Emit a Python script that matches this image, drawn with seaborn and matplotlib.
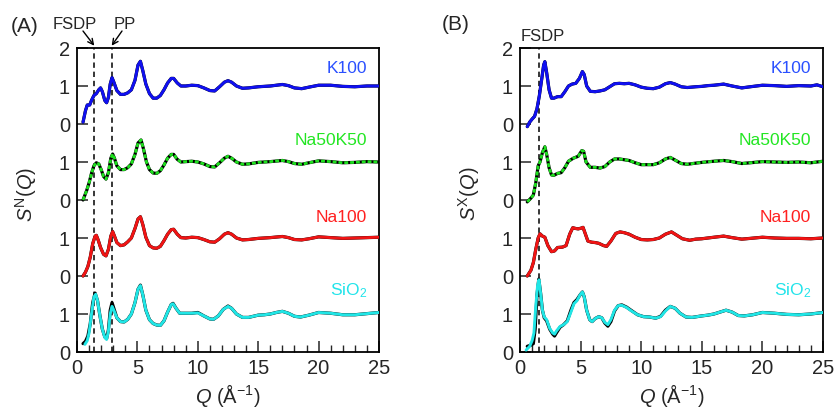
import numpy as np
import pandas as pd
import matplotlib
matplotlib.use("Agg")
import matplotlib.pyplot as plt
import seaborn as sns
from matplotlib.ticker import MultipleLocator, FixedLocator

sns.set_style("white")
plt.rcParams["font.family"] = ["Liberation Sans", "DejaVu Sans"]
plt.rcParams["mathtext.fontset"] = "custom"
plt.rcParams["mathtext.rm"] = "Liberation Sans"
plt.rcParams["mathtext.it"] = "Liberation Sans:italic"
plt.rcParams["mathtext.bf"] = "Liberation Sans:bold"

# ---------------- data ----------------
SAMPLES = ["SiO2", "Na100", "Na50K50", "K100"]
SAMPLE_LABELS = ["SiO$_2$", "Na100", "Na50K50", "K100"]
OFFSETS = [0, 2, 4, 6]
YTICKS = [0, 1, 2, 3, 4, 5, 6, 7, 8]
YTICK_LABELS = ["0", "1", "0", "1", "0", "1", "0", "1", "2"]
XTICKS = [0, 5, 10, 15, 20, 25]

# ---- Panel A : neutron S^N(Q) ----
Q_K100_N = [0.5, 0.7, 0.85, 1.05, 1.2, 1.4, 1.6, 1.8, 1.95, 2.1, 2.3, 2.45, 2.6, 2.75, 2.9, 3.05, 3.3, 3.6, 3.9, 4.2,
            4.5, 4.8, 5.05, 5.25, 5.45, 5.7, 6.0, 6.3, 6.6, 6.9, 7.2, 7.5, 7.8, 8.0, 8.3, 8.6, 9.0, 9.5, 10.0, 10.5,
            11.0, 11.4, 11.8, 12.2, 12.5, 12.8, 13.2, 13.7, 14.2, 15.0, 15.5, 16.0, 16.5, 17.0, 17.5, 18.0, 18.6,
            19.2, 20.0, 21.0, 22.0, 23.0, 24.0, 25.0]
S_K100_N = [0.05, 0.35, 0.5, 0.5, 0.62, 0.75, 0.8, 0.9, 0.95, 0.85, 0.62, 0.56, 0.7, 1.05, 1.22, 1.1, 0.88, 0.78, 0.78, 0.82,
            0.9, 1.15, 1.55, 1.65, 1.4, 1.05, 0.8, 0.68, 0.68, 0.75, 0.9, 1.08, 1.2, 1.2, 1.08, 1.0, 1.0, 1.02, 1.01, 0.95,
            0.88, 0.87, 0.98, 1.1, 1.14, 1.1, 1.0, 0.94, 0.95, 0.98, 0.99, 1.0, 1.02, 1.04, 1.01, 0.95, 0.93,
            0.97, 1.02, 1.02, 0.99, 0.98, 1.0, 1.0]

Q_NAK_N = [0.5, 0.8, 1.0, 1.2, 1.4, 1.6, 1.8, 2.0, 2.2, 2.4, 2.6, 2.8, 2.95, 3.1, 3.3, 3.6, 3.9, 4.2, 4.5, 4.8,
           5.05, 5.3, 5.5, 5.75, 6.0, 6.3, 6.6, 6.9, 7.2, 7.5, 7.8, 8.0, 8.3, 8.6, 9.0, 9.5, 10.0, 10.5, 11.0, 11.4,
           11.8, 12.2, 12.5, 12.8, 13.2, 13.7, 14.2, 15.0, 16.0, 17.0, 17.5, 18.0, 18.6, 19.2, 20.0, 21.0, 22.0,
           23.0, 24.0, 25.0]
S_NAK_N = [0.0, 0.25, 0.45, 0.7, 0.9, 0.98, 0.95, 0.8, 0.62, 0.55, 0.72, 1.1, 1.21, 1.1, 0.9, 0.8, 0.8, 0.85, 0.95, 1.2,
           1.5, 1.58, 1.35, 1.0, 0.8, 0.71, 0.7, 0.77, 0.92, 1.1, 1.2, 1.2, 1.07, 1.0, 1.01, 1.02, 1.0, 0.95, 0.88, 0.87,
           0.98, 1.1, 1.15, 1.1, 1.0, 0.94, 0.95, 0.99, 1.01, 1.04, 1.01, 0.96, 0.94, 0.98, 1.03, 1.01, 0.98,
           0.99, 1.01, 1.0]

Q_NA100_N = [0.5, 0.7, 0.9, 1.1, 1.3, 1.5, 1.6, 1.75, 1.95, 2.2, 2.4, 2.6, 2.8, 2.95, 3.1, 3.3, 3.6, 3.9, 4.2, 4.5,
             4.8, 5.05, 5.25, 5.45, 5.7, 6.0, 6.3, 6.6, 6.9, 7.2, 7.5, 7.8, 8.0, 8.3, 8.6, 9.0, 9.5, 10.0, 10.5, 11.0,
             11.4, 11.8, 12.2, 12.5, 12.8, 13.2, 13.7, 14.2, 15.0, 16.0, 17.0, 17.5, 18.0, 18.6, 19.2, 20.0, 21.0,
             22.0, 23.0, 24.0, 25.0]
S_NA100_N = [0.0, 0.1, 0.25, 0.5, 0.85, 1.05, 1.07, 0.95, 0.75, 0.57, 0.53, 0.7, 1.05, 1.17, 1.05, 0.88, 0.8, 0.82, 0.9, 1.0,
             1.25, 1.5, 1.56, 1.35, 1.02, 0.8, 0.74, 0.73, 0.78, 0.93, 1.1, 1.22, 1.23, 1.1, 1.01, 1.0, 1.02, 1.01, 0.96, 0.9,
             0.89, 0.98, 1.1, 1.14, 1.1, 1.0, 0.95, 0.96, 0.99, 1.01, 1.04, 1.01, 0.96, 0.95, 0.98, 1.03, 1.01,
             0.99, 1.0, 1.01, 1.02]

Q_SIO2_N = [0.65, 0.85, 1.0, 1.2, 1.4, 1.55, 1.7, 1.9, 2.1, 2.3, 2.45, 2.6, 2.75, 2.9, 3.05, 3.3, 3.6, 3.9, 4.2, 4.5,
            4.8, 5.05, 5.25, 5.45, 5.7, 6.0, 6.3, 6.6, 6.9, 7.2, 7.5, 7.8, 7.95, 8.2, 8.5, 9.0, 9.5, 10.0, 10.5, 11.0,
            11.3, 11.7, 12.1, 12.5, 12.8, 13.2, 13.7, 14.2, 15.0, 15.5, 16.0, 16.5, 17.0, 17.5, 18.0, 18.5, 19.2,
            20.0, 21.0, 22.0, 23.0, 24.0, 25.0]
S_SIO2_N = [0.2, 0.3, 0.5, 1.0, 1.45, 1.52, 1.35, 0.95, 0.6, 0.38, 0.33, 0.55, 1.0, 1.2, 1.1, 0.9, 0.8, 0.79, 0.86, 1.0,
            1.3, 1.65, 1.75, 1.5, 1.1, 0.85, 0.75, 0.71, 0.7, 0.82, 1.05, 1.25, 1.27, 1.15, 1.02, 1.02, 1.02, 1.03, 0.95, 0.87,
            0.86, 0.95, 1.12, 1.2, 1.15, 1.0, 0.91, 0.91, 0.97, 0.98, 1.0, 1.04, 1.07, 1.02, 0.94, 0.92, 0.97,
            1.04, 1.02, 0.98, 0.98, 1.01, 1.04]
# black (measured) SiO2 curve where it differs from the cyan one
Q_SIO2_N_BLK = [0.5, 0.7, 0.9, 1.1, 1.3, 1.5, 1.7, 1.9, 2.1, 2.3, 2.45, 2.6, 2.75, 2.9, 3.05, 3.3, 3.6, 3.9, 4.2, 4.5,
                4.8, 5.05, 5.25, 5.45, 5.7, 6.0, 6.3, 6.6, 6.9, 7.2, 7.5, 7.8, 7.95, 8.2, 8.5, 9.0, 9.5, 10.0, 10.5, 11.0,
                11.3, 11.7, 12.1, 12.5, 12.8, 13.2, 13.7, 14.2, 15.0, 15.5, 16.0, 16.5, 17.0, 17.5, 18.0, 18.5, 19.2,
                20.0, 21.0, 22.0, 23.0, 24.0, 25.0]
S_SIO2_N_BLK = [0.22, 0.28, 0.42, 0.75, 1.3, 1.55, 1.35, 0.95, 0.6, 0.4, 0.35, 0.58, 1.1, 1.3, 1.15, 0.9, 0.8, 0.79, 0.86, 1.0,
                1.3, 1.65, 1.76, 1.5, 1.1, 0.85, 0.75, 0.71, 0.7, 0.82, 1.05, 1.25, 1.28, 1.15, 1.02, 1.02, 1.02, 1.04, 0.95, 0.87,
                0.86, 0.95, 1.12, 1.21, 1.15, 1.0, 0.91, 0.91, 0.97, 0.98, 1.0, 1.04, 1.07, 1.02, 0.94, 0.92, 0.97,
                1.04, 1.02, 0.98, 0.98, 1.01, 1.04]

# ---- Panel B : X-ray S^X(Q) ----
Q_K100_X = [0.6, 0.8, 1.0, 1.2, 1.4, 1.6, 1.8, 1.95, 2.05, 2.2, 2.4, 2.6, 2.8, 3.1, 3.4, 3.7, 4.0, 4.3, 4.6, 4.9,
            5.15, 5.3, 5.5, 5.8, 6.2, 6.6, 7.0, 7.4, 7.8, 8.2, 8.6, 9.0, 9.5, 10.0, 10.5, 11.0, 11.5, 12.0, 12.4, 12.8,
            13.3, 13.8, 14.5, 15.0, 15.5, 16.0, 16.8, 17.5, 18.3, 19.0, 20.0, 21.0, 22.0, 23.0, 24.0, 24.5, 25.0]
S_K100_X = [-0.07, 0.05, 0.13, 0.2, 0.4, 0.75, 1.2, 1.55, 1.64, 1.35, 0.9, 0.68, 0.68, 0.72, 0.72, 0.85, 1.0, 1.05, 1.07, 1.2,
            1.38, 1.3, 1.0, 0.86, 0.85, 0.87, 0.9, 0.98, 1.06, 1.07, 1.06, 1.07, 1.03, 0.97, 0.94, 0.93, 0.97, 1.06, 1.09, 1.05,
            0.98, 0.96, 0.98, 0.99, 1.01, 1.02, 1.05, 1.0, 0.95, 0.98, 1.02, 1.01, 0.99, 1.01, 1.0, 1.03, 0.98]

Q_NAK_X = [0.6, 0.9, 1.1, 1.3, 1.5, 1.65, 1.85, 2.05, 2.2, 2.4, 2.6, 2.8, 3.1, 3.4, 3.7, 4.0, 4.4, 4.8, 5.1, 5.25,
           5.45, 5.8, 6.2, 6.6, 7.0, 7.4, 7.8, 8.2, 8.6, 9.0, 9.5, 10.0, 10.5, 11.0, 11.5, 12.0, 12.4, 12.8, 13.3,
           13.8, 14.5, 15.0, 16.0, 16.8, 17.5, 18.3, 19.0, 20.0, 21.0, 22.0, 23.0, 24.0, 25.0]
S_NAK_X = [-0.05, 0.05, 0.13, 0.45, 0.9, 1.0, 1.25, 1.4, 1.2, 0.85, 0.66, 0.65, 0.7, 0.72, 0.85, 1.02, 1.1, 1.15, 1.3, 1.28,
           1.0, 0.86, 0.86, 0.84, 0.88, 1.0, 1.08, 1.08, 1.06, 1.04, 0.98, 0.93, 0.93, 0.93, 0.98, 1.08, 1.12, 1.05, 0.96,
           0.94, 0.97, 0.99, 1.02, 1.04, 1.01, 0.96, 0.98, 1.01, 1.0, 0.99, 1.0, 0.98, 1.02]

Q_NA100_X = [0.6, 0.9, 1.1, 1.3, 1.5, 1.65, 1.85, 2.05, 2.3, 2.6, 2.85, 3.1, 3.5, 3.8, 4.1, 4.35, 4.6, 4.8, 5.05, 5.2,
             5.4, 5.6, 5.9, 6.2, 6.5, 6.9, 7.15, 7.5, 7.9, 8.25, 8.6, 9.0, 9.5, 10.0, 10.5, 11.0, 11.5, 12.0, 12.5,
             12.9, 13.4, 14.0, 14.5, 15.0, 16.0, 16.8, 17.5, 18.3, 19.0, 20.0, 21.0, 22.0, 23.0, 24.0, 25.0]
S_NA100_X = [0.0, 0.15, 0.35, 0.7, 1.0, 1.11, 1.05, 1.02, 0.8, 0.64, 0.66, 0.75, 0.76, 0.8, 1.1, 1.27, 1.25, 1.24, 1.26, 1.28,
             1.1, 0.92, 0.89, 0.88, 0.86, 0.8, 0.78, 0.92, 1.12, 1.16, 1.14, 1.1, 1.02, 0.96, 0.95, 0.96, 1.0, 1.1, 1.16,
             1.08, 0.98, 0.94, 0.97, 0.98, 1.02, 1.05, 1.01, 0.97, 0.99, 1.02, 1.0, 0.99, 0.99, 0.98, 1.0]

Q_SIO2_X = [0.5, 0.8, 1.0, 1.15, 1.3, 1.45, 1.57, 1.7, 1.85, 2.0, 2.2, 2.45, 2.7, 2.85, 3.0, 3.3, 3.6, 3.9, 4.2, 4.45,
            4.7, 4.95, 5.15, 5.3, 5.5, 5.75, 5.95, 6.2, 6.5, 6.75, 7.0, 7.25, 7.5, 7.8, 8.1, 8.4, 8.8, 9.2, 9.7, 10.2,
            10.7, 11.2, 11.6, 12.0, 12.4, 12.8, 13.2, 13.7, 14.2, 15.0, 15.5, 16.0, 16.5, 17.0, 17.5, 18.0, 18.5,
            19.2, 20.0, 21.0, 22.0, 23.0, 24.0, 25.0]
S_SIO2_X = [0.05, 0.15, 0.3, 0.5, 1.2, 1.75, 1.9, 1.55, 1.1, 0.92, 0.85, 0.62, 0.5, 0.47, 0.55, 0.67, 0.72, 0.8, 1.05, 1.27,
            1.35, 1.5, 1.58, 1.45, 1.1, 0.85, 0.8, 0.88, 0.93, 0.9, 0.78, 0.72, 0.85, 1.1, 1.22, 1.23, 1.17, 1.08, 0.98, 0.93,
            0.92, 0.89, 0.93, 1.08, 1.2, 1.15, 1.02, 0.92, 0.91, 0.95, 0.97, 1.0, 1.05, 1.1, 1.05, 0.96, 0.95,
            0.98, 1.04, 1.02, 0.99, 0.98, 1.0, 1.04]
Q_SIO2_X_BLK = [0.6, 0.9, 1.1, 1.25, 1.4, 1.55, 1.7, 1.85, 2.0, 2.2, 2.45, 2.7, 2.85, 3.0, 3.3, 3.6, 3.9, 4.2, 4.45,
                4.7, 4.95, 5.15, 5.3, 5.5, 5.75, 5.95, 6.2, 6.5, 6.75, 7.0, 7.25, 7.5, 7.8, 8.1, 8.4, 8.8, 9.2, 9.7, 10.2,
                10.7, 11.2, 11.6, 12.0, 12.4, 12.8, 13.2, 13.7, 14.2, 15.0, 15.5, 16.0, 16.5, 17.0, 17.5, 18.0, 18.5,
                19.2, 20.0, 21.0, 22.0, 23.0, 24.0, 25.0]
S_SIO2_X_BLK = [0.15, 0.18, 0.22, 0.6, 1.5, 1.92, 1.55, 1.1, 0.9, 0.82, 0.6, 0.47, 0.42, 0.5, 0.65, 0.72, 0.82, 1.1, 1.3,
                1.38, 1.5, 1.58, 1.45, 1.1, 0.85, 0.8, 0.88, 0.93, 0.9, 0.76, 0.68, 0.8, 1.08, 1.22, 1.24, 1.18, 1.09, 0.98, 0.93,
                0.92, 0.89, 0.94, 1.1, 1.2, 1.15, 1.02, 0.92, 0.91, 0.95, 0.97, 1.0, 1.05, 1.1, 1.05, 0.96, 0.95,
                0.98, 1.04, 1.02, 0.99, 0.98, 1.0, 1.04]

FSDP_Q_N = 1.43
PP_Q_N = 2.87
FSDP_Q_X = 1.6

# ---------------- styling ----------------
LINE_COLORS = {"SiO2": "#20e6e6", "Na100": "#f01414", "Na50K50": "#1ee01e", "K100": "#1010f0"}
TEXT_COLORS = {"SiO2": "#22e4ea", "Na100": "#ff2020", "Na50K50": "#22e622", "K100": "#2a50ff"}

CURVES_N = {"SiO2": (Q_SIO2_N, S_SIO2_N), "Na100": (Q_NA100_N, S_NA100_N),
            "Na50K50": (Q_NAK_N, S_NAK_N), "K100": (Q_K100_N, S_K100_N)}
BLACK_N = {"SiO2": (Q_SIO2_N_BLK, S_SIO2_N_BLK), "Na100": (Q_NA100_N, S_NA100_N),
           "Na50K50": (Q_NAK_N, S_NAK_N), "K100": (Q_K100_N, S_K100_N)}
CURVES_X = {"SiO2": (Q_SIO2_X, S_SIO2_X), "Na100": (Q_NA100_X, S_NA100_X),
            "Na50K50": (Q_NAK_X, S_NAK_X), "K100": (Q_K100_X, S_K100_X)}
BLACK_X = {"SiO2": (Q_SIO2_X_BLK, S_SIO2_X_BLK), "Na100": (Q_NA100_X, S_NA100_X),
           "Na50K50": (Q_NAK_X, S_NAK_X), "K100": (Q_K100_X, S_K100_X)}

W, H = 834, 408
fig = plt.figure(figsize=(W / 100, H / 100), dpi=100)
axA = fig.add_axes([77 / W, 56 / H, 302 / W, 304 / H])
axB = fig.add_axes([520 / W, 56 / H, 303 / W, 304 / H])

LABEL_Y = [1.5, 3.42, 5.44, 7.34]


def draw_panel(ax, curves, blacks, vlines, ylabel):
    for v in vlines:
        ax.axvline(v, color="black", lw=1.1, ls=(0, (3.5, 2.5)), zorder=1)
    for i, name in enumerate(SAMPLES):
        qb, sb = blacks[name]
        df_b = pd.DataFrame({"Q": qb, "S": np.asarray(sb) + OFFSETS[i]})
        sns.lineplot(data=df_b, x="Q", y="S", ax=ax, color="black", lw=2.3,
                     estimator=None, sort=False, zorder=2)
        q, s = curves[name]
        df = pd.DataFrame({"Q": q, "S": np.asarray(s) + OFFSETS[i]})
        if name == "Na50K50":
            sns.lineplot(data=df, x="Q", y="S", ax=ax, color=LINE_COLORS[name], lw=2.0,
                         linestyle=(0, (1.4, 0.7)), estimator=None, sort=False, zorder=3)
        else:
            sns.lineplot(data=df, x="Q", y="S", ax=ax, color=LINE_COLORS[name], lw=2.1,
                         estimator=None, sort=False, zorder=3)
        ax.text(24.0, LABEL_Y[i], SAMPLE_LABELS[i], color=TEXT_COLORS[name],
                ha="right", va="baseline", fontsize=12.5)

    ax.set_xlim(0, 25)
    ax.set_ylim(0, 8)
    ax.xaxis.set_major_locator(FixedLocator(XTICKS))
    ax.xaxis.set_minor_locator(MultipleLocator(1))
    ax.yaxis.set_major_locator(FixedLocator(YTICKS))
    ax.set_yticklabels(YTICK_LABELS)
    ax.set_xticklabels([str(t) for t in XTICKS])
    ax.tick_params(axis="both", which="major", direction="in", length=8, width=1.1,
                   labelsize=14.5, pad=5, bottom=True, left=True, top=False, right=False)
    ax.tick_params(axis="x", which="minor", direction="in", length=5, width=1.0,
                   bottom=True, top=False)
    for sp in ax.spines.values():
        sp.set_linewidth(1.3)
        sp.set_color("black")
        sp.set_visible(True)
    ax.set_xlabel(r"$Q$ (Å$^{-1}$)", fontsize=14.5, labelpad=3)
    ax.set_ylabel(ylabel, fontsize=14.5)
    ax.yaxis.set_label_coords(-0.125, 0.52)


draw_panel(axA, CURVES_N, BLACK_N, [FSDP_Q_N, PP_Q_N], r"$S^{\mathrm{N}}(Q)$")
draw_panel(axB, CURVES_X, BLACK_X, [FSDP_Q_X], r"$S^{\mathrm{X}}(Q)$")

# panel letters
fig.text(25 / W, 1 - 26 / H, "(A)", ha="center", va="center", fontsize=15)
fig.text(456 / W, 1 - 25 / H, "(B)", ha="center", va="center", fontsize=15)

# peak annotations
fig.text(75 / W, 1 - 29 / H, "FSDP", ha="center", va="baseline", fontsize=12)
fig.text(125 / W, 1 - 29 / H, "PP", ha="center", va="baseline", fontsize=12)
fig.text(543 / W, 1 - 41 / H, "FSDP", ha="center", va="baseline", fontsize=12)
axA.annotate("", xy=(FSDP_Q_N, 8.06), xycoords="data",
             xytext=(83, H - 31), textcoords="figure pixels",
             arrowprops=dict(arrowstyle="->", color="black", lw=1.0, shrinkA=0, shrinkB=0),
             annotation_clip=False)
axA.annotate("", xy=(PP_Q_N, 8.06), xycoords="data",
             xytext=(122, H - 31), textcoords="figure pixels",
             arrowprops=dict(arrowstyle="->", color="black", lw=1.0, shrinkA=0, shrinkB=0),
             annotation_clip=False)

fig.savefig("out.png", dpi=100)
